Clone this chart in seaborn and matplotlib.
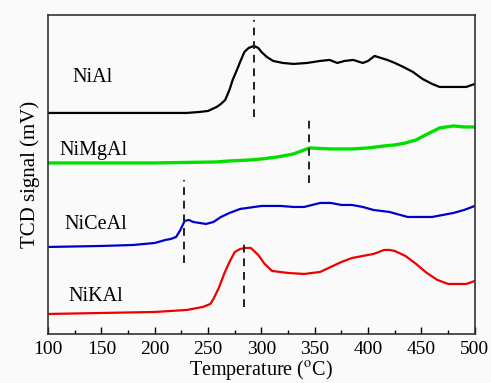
import numpy as np
import pandas as pd
import matplotlib.pyplot as plt
import seaborn as sns
from matplotlib.ticker import MultipleLocator

# TPR traces (temperature in C, signal in arbitrary units)
t_nial = [100, 150, 195, 230, 242, 250, 258, 262, 266, 270, 273, 277, 280, 284, 288, 293, 297, 300, 305, 311,
          320, 330, 343, 355, 364, 371, 378, 386, 395, 400, 406, 412, 418, 425, 433, 442, 451, 460, 467, 480, 492, 500]
s_nial = [221, 221, 221, 221, 222, 223, 227, 230, 234, 244, 254, 264, 272, 282, 286, 288, 286, 282, 277, 273,
          271, 270, 271, 273, 274, 271, 273, 274, 271, 273, 278, 276, 274, 271, 267, 262, 255, 250, 247, 247, 247, 250]

t_nimgal = [100, 150, 200, 258, 270, 290, 300, 315, 330, 345, 365, 385, 400, 415, 425, 435, 445, 452, 467, 480, 490, 500]
s_nimgal = [171, 171, 171, 172, 173, 174, 175, 177, 180, 186, 185, 185, 186, 188, 189, 191, 194, 198, 206, 208, 207, 207]

t_niceal = [100, 150, 180, 200, 210, 215, 220, 224, 228, 232, 236, 242, 248, 255, 262, 270, 280, 300, 318, 330,
            340, 355, 365, 375, 385, 395, 405, 420, 437, 450, 460, 470, 480, 490, 500]
s_niceal = [87, 88, 89, 91, 94, 95, 97, 104, 113, 114, 112, 111, 110, 112, 117, 121, 125, 128, 128, 127,
            127, 131, 131, 129, 129, 127, 124, 122, 117, 117, 117, 119, 121, 124, 128]

t_nikal = [100, 150, 200, 230, 245, 252, 255, 260, 265, 270, 275, 280, 285, 290, 297, 303, 310, 325, 340, 355,
           365, 375, 385, 395, 405, 415, 420, 425, 435, 445, 455, 465, 475, 485, 492, 500]
s_nikal = [20, 21, 22, 24, 27, 30, 35, 46, 60, 72, 82, 85, 86, 86, 79, 70, 63, 61, 60, 62,
           67, 72, 76, 78, 80, 84, 84, 83, 78, 70, 61, 54, 50, 50, 50, 53]

names = ["NiAl", "NiMgAl", "NiCeAl", "NiKAl"]
colors = ["black", "#00e000", "#0000cc", "#ee0000"]
widths = [1.6, 2.4, 1.6, 1.6]
label_t = [142, 143, 145, 145]
label_s = [256, 183, 109, 37]

# dashed peak markers
peak_t = [293, 344.5, 227.5, 283.5]
peak_lo = [217, 151, 71, 27]
peak_hi = [314, 219, 154, 94]

df = pd.concat([
    pd.DataFrame({"T": t, "S": s, "sample": n})
    for t, s, n in zip([t_nial, t_nimgal, t_niceal, t_nikal], [s_nial, s_nimgal, s_niceal, s_nikal], names)
])

plt.rcParams["font.family"] = ["Liberation Serif", "DejaVu Serif"]
plt.rcParams["mathtext.fontset"] = "stix"

fig = plt.figure(figsize=(4.91, 3.83), dpi=100, facecolor="#fafafa")
ax = fig.add_axes([0.098, 0.128, 0.869, 0.833])
ax.set_facecolor("#fafafa")

for n, c, w in zip(names, colors, widths):
    sns.lineplot(data=df[df["sample"] == n], x="T", y="S", color=c, lw=w, ax=ax, sort=False)

ax.vlines(peak_t, peak_lo, peak_hi, colors="#222222", linestyles=(0, (4, 3)), lw=1.4)

for n, x, y in zip(names, label_t, label_s):
    ax.text(x, y, n, fontsize=14.5, ha="center", va="center")

ax.set_xlim(100, 500)
ax.set_ylim(0, 319)
ax.xaxis.set_major_locator(MultipleLocator(50))
ax.xaxis.set_minor_locator(MultipleLocator(25))
ax.tick_params(axis="x", which="major", direction="in", length=5, width=1, labelsize=14, pad=5)
ax.tick_params(axis="x", which="minor", direction="in", length=3, width=1)
ax.set_yticks([])
for sp in ax.spines.values():
    sp.set_linewidth(1.2)
    sp.set_color("#333333")

ax.set_xlabel("Temperature ($^{\\rm o}$C)", fontsize=14.5, labelpad=0)
ax.set_ylabel("TCD signal (mV)", fontsize=15, labelpad=6)

fig.savefig("out.png", dpi=100, facecolor=fig.get_facecolor())
